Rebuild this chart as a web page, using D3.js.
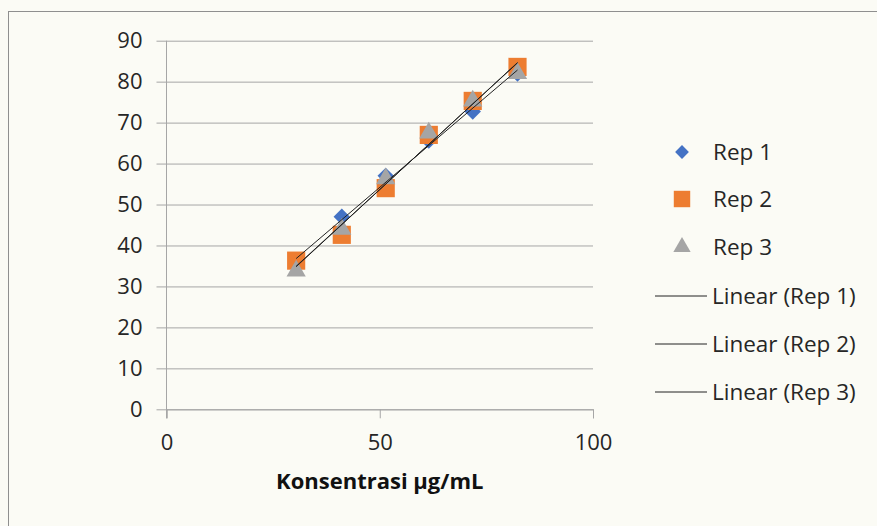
<!DOCTYPE html>
<html>
<head>
<meta charset="utf-8">
<script src="https://cdn.jsdelivr.net/npm/d3@7"></script>
<style>
  body { margin: 0; background: #fbfbf5; }
  svg { display: block; font-family: "Open Sans", Lato, sans-serif; }
</style>
</head>
<body>
<script>
// concentration (µg/mL) and response per replicate
const konsentrasi = [30.4, 41.1, 51.4, 61.5, 71.8, 82.3]
const rep1 = [35.0, 47.0, 57.0, 65.6, 72.7, 82.0]
const rep2 = [36.3, 42.6, 54.0, 67.0, 75.3, 83.6]
const rep3 = [33.8, 44.0, 56.3, 67.5, 75.3, 82.0]
const seriesNames = ["Rep 1", "Rep 2", "Rep 3"]
const xTicks = [0, 50, 100]
const yTicks = [0, 10, 20, 30, 40, 50, 60, 70, 80, 90]
const xTitle = "Konsentrasi µg/mL"

const W = 877, H = 526
const colors = ["#4472c4", "#ed7d31", "#a5a5a5"]
const textColor = "#262626"

function fit(xs, ys) {
  const n = xs.length
  const mx = d3.mean(xs), my = d3.mean(ys)
  let sxy = 0, sxx = 0
  for (let i = 0; i < n; ++i) {
    sxy += (xs[i] - mx) * (ys[i] - my)
    sxx += (xs[i] - mx) * (xs[i] - mx)
  }
  const b = sxy / sxx
  return { b: b, a: my - b * mx }
}

window.onload = () => {
  const svg = d3.select("body").append("svg")
    .attr("width", W)
    .attr("height", H)

  svg.append("rect")
    .attr("width", W).attr("height", H)
    .attr("fill", "#fbfbf5")

  // chart frame (runs past the right/bottom of the picture)
  svg.append("rect")
    .attr("x", 8.5).attr("y", 11.5)
    .attr("width", W + 20).attr("height", H + 20)
    .attr("fill", "none")
    .attr("stroke", "#8f8f8f")

  const x = d3.scaleLinear().domain([0, 100]).range([166.5, 593])
  const y = d3.scaleLinear().domain([0, 90]).range([409.3, 40.7])

  // y axis with gridlines
  const gy = svg.append("g")
    .attr("transform", "translate(" + x(0) + ",0)")
    .call(d3.axisLeft(y).tickValues(yTicks).tickSize(10).tickPadding(14))
  gy.select(".domain").remove()
  gy.selectAll(".tick line").attr("stroke", "#a6a6a6")
  gy.selectAll(".tick").append("line")
    .attr("x1", 0).attr("x2", x(100) - x(0))
    .attr("stroke", "#a6a6a6")
  gy.selectAll(".tick text")
    .attr("fill", textColor)
    .style("font-size", "22px")
    .style("font-family", "Open Sans, sans-serif")

  svg.append("line")
    .attr("x1", x(0)).attr("x2", x(0))
    .attr("y1", y(90)).attr("y2", y(0) + 9)
    .attr("stroke", "#a6a6a6")

  // x axis
  const gx = svg.append("g")
    .attr("transform", "translate(0," + y(0) + ")")
    .call(d3.axisBottom(x).tickValues(xTicks).tickSize(9).tickPadding(16))
  gx.select(".domain").attr("stroke", "#a6a6a6")
  gx.selectAll(".tick line").attr("stroke", "#a6a6a6")
  gx.selectAll(".tick text")
    .attr("fill", textColor)
    .style("font-size", "22px")
    .style("font-family", "Open Sans, sans-serif")

  svg.append("text")
    .attr("x", x(50)).attr("y", 489)
    .attr("text-anchor", "middle")
    .attr("fill", "#111")
    .style("font-size", "22px")
    .style("font-weight", "bold")
    .text(xTitle)

  const reps = [rep1, rep2, rep3]
  const shapes = [
    { type: d3.symbolSquare, size: 135, rot: 45 },
    { type: d3.symbolSquare, size: 330, rot: 0 },
    { type: d3.symbolTriangle, size: 160, rot: 0 }
  ]

  const marks = svg.append("g")
  reps.forEach((vals, s) => {
    const sym = d3.symbol().type(shapes[s].type).size(shapes[s].size)
    marks.append("g").selectAll("path")
      .data(vals)
      .join("path")
      .attr("d", sym)
      .attr("fill", colors[s])
      .attr("transform", (d, i) => "translate(" + x(konsentrasi[i]) + "," + y(d) + ") rotate(" + shapes[s].rot + ")")
  })

  // linear trendlines over data range
  const x0 = d3.min(konsentrasi), x1 = d3.max(konsentrasi)
  reps.forEach((vals) => {
    const f = fit(konsentrasi, vals)
    svg.append("line")
      .attr("x1", x(x0)).attr("y1", y(f.a + f.b * x0))
      .attr("x2", x(x1)).attr("y2", y(f.a + f.b * x1))
      .attr("stroke", "#222")
      .attr("stroke-width", 1)
  })

  // legend
  const lg = svg.append("g").style("font-size", "22.5px").attr("fill", textColor)
  const markerY = [152, 199, 247]
  const legendShapes = [
    { type: d3.symbolSquare, size: 95, rot: 45 },
    { type: d3.symbolSquare, size: 270, rot: 0 },
    { type: d3.symbolTriangle, size: 130, rot: 0 }
  ]
  seriesNames.forEach((name, s) => {
    lg.append("path")
      .attr("d", d3.symbol().type(legendShapes[s].type).size(legendShapes[s].size))
      .attr("fill", colors[s])
      .attr("transform", "translate(682," + markerY[s] + ") rotate(" + legendShapes[s].rot + ")")
    lg.append("text")
      .attr("x", 713).attr("y", markerY[s] + 8)
      .text(name)
  })
  const lineY = [296, 344, 392]
  seriesNames.forEach((name, s) => {
    lg.append("line")
      .attr("x1", 655).attr("x2", 707)
      .attr("y1", lineY[s]).attr("y2", lineY[s])
      .attr("stroke", "#222")
    lg.append("text")
      .attr("x", 712).attr("y", lineY[s] + 8)
      .text("Linear (" + name + ")")
  })
}
</script>
</body>
</html>
